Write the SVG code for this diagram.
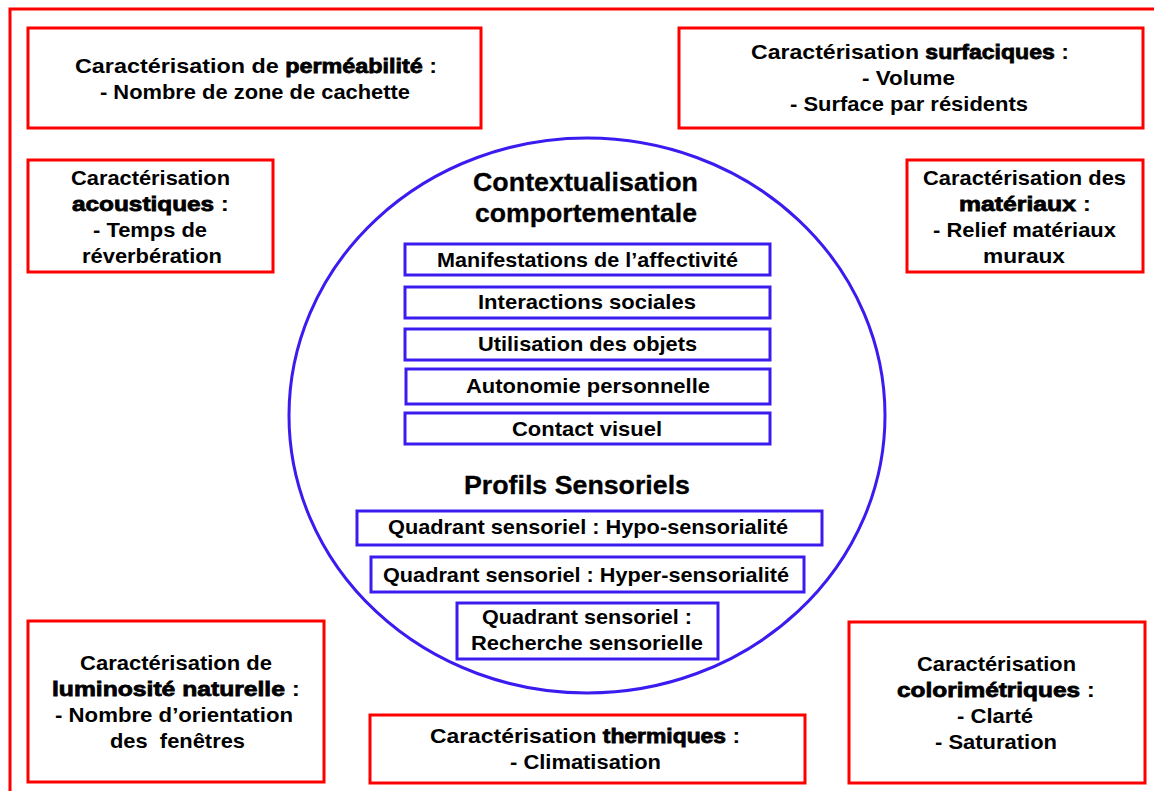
<svg xmlns="http://www.w3.org/2000/svg" width="1154" height="791" viewBox="0 0 1154 791">
<style>
.rb{fill:#fff;stroke:#ff0000;stroke-width:3}
.bb{fill:#fff;stroke:#3a1cf0;stroke-width:3}
text{font-family:"Liberation Sans",Arial,sans-serif;fill:#000;text-anchor:middle;font-weight:bold;font-size:21px}
.b{stroke:#000;stroke-width:0.8}
.h{font-size:25px;stroke:#000;stroke-width:0.3}
</style>
<rect x="10" y="9" width="1160" height="800" fill="none" stroke="#ff0000" stroke-width="3"/>
<g id="circle">
<ellipse cx="587" cy="415.5" rx="298" ry="277.5" fill="#fff" stroke="#3a1cf0" stroke-width="3"/>
<text class="h" x="585.5" y="191" textLength="225" lengthAdjust="spacingAndGlyphs">Contextualisation</text>
<text class="h" x="586" y="222" textLength="222" lengthAdjust="spacingAndGlyphs">comportementale</text>
<text class="h" x="577" y="494" textLength="226" lengthAdjust="spacingAndGlyphs">Profils Sensoriels</text>
</g>
<g id="n_manif"><rect class="bb" x="405" y="244" width="365" height="31"/><text x="587.5" y="267" textLength="301" lengthAdjust="spacingAndGlyphs">Manifestations de l’affectivité</text></g>
<g id="n_inter"><rect class="bb" x="405" y="287" width="365" height="31"/><text x="587" y="309" textLength="218" lengthAdjust="spacingAndGlyphs">Interactions sociales</text></g>
<g id="n_util"><rect class="bb" x="405" y="329" width="365" height="31"/><text x="587.5" y="351" textLength="219" lengthAdjust="spacingAndGlyphs">Utilisation des objets</text></g>
<g id="n_auto"><rect class="bb" x="406" y="369" width="364" height="35"/><text x="588" y="393" textLength="244" lengthAdjust="spacingAndGlyphs">Autonomie personnelle</text></g>
<g id="n_contact"><rect class="bb" x="405" y="413" width="365" height="31"/><text x="587" y="436" textLength="150" lengthAdjust="spacingAndGlyphs">Contact visuel</text></g>
<g id="n_hypo"><rect class="bb" x="357" y="511" width="465" height="34"/><text x="588" y="534" textLength="400" lengthAdjust="spacingAndGlyphs">Quadrant sensoriel : Hypo-sensorialité</text></g>
<g id="n_hyper"><rect class="bb" x="371" y="557" width="433" height="35"/><text x="586" y="582" textLength="406" lengthAdjust="spacingAndGlyphs">Quadrant sensoriel : Hyper-sensorialité</text></g>
<g id="n_rech"><rect class="bb" x="457" y="603" width="261" height="56"/><text x="587" y="624" textLength="210" lengthAdjust="spacingAndGlyphs">Quadrant sensoriel :</text><text x="587" y="650" textLength="232" lengthAdjust="spacingAndGlyphs">Recherche sensorielle</text></g>
<g id="n_perm"><rect class="rb" x="28" y="28" width="453" height="100"/>
<text x="256" y="73" textLength="362" lengthAdjust="spacingAndGlyphs">Caractérisation de <tspan class="b">perméabilité</tspan> :</text>
<text x="255" y="99" textLength="310" lengthAdjust="spacingAndGlyphs">- Nombre de zone de cachette</text></g>
<g id="n_surf"><rect class="rb" x="679" y="28" width="464" height="100"/>
<text x="910" y="59" textLength="318" lengthAdjust="spacingAndGlyphs">Caractérisation <tspan class="b">surfaciques</tspan> :</text>
<text x="908.5" y="85" textLength="93" lengthAdjust="spacingAndGlyphs">- Volume</text>
<text x="909" y="111" textLength="238" lengthAdjust="spacingAndGlyphs">- Surface par résidents</text></g>
<g id="n_acou"><rect class="rb" x="28" y="160" width="245" height="112"/>
<text x="150.5" y="185" textLength="159" lengthAdjust="spacingAndGlyphs">Caractérisation</text>
<text x="150.5" y="211" textLength="157" lengthAdjust="spacingAndGlyphs"><tspan class="b">acoustiques</tspan> :</text>
<text x="150" y="237" textLength="114" lengthAdjust="spacingAndGlyphs">- Temps de</text>
<text x="152" y="263" textLength="140" lengthAdjust="spacingAndGlyphs">réverbération</text></g>
<g id="n_mat"><rect class="rb" x="907" y="160" width="236" height="112"/>
<text x="1024.5" y="185" textLength="203" lengthAdjust="spacingAndGlyphs">Caractérisation des</text>
<text x="1025" y="211" textLength="132" lengthAdjust="spacingAndGlyphs"><tspan class="b">matériaux</tspan> :</text>
<text x="1024.5" y="237" textLength="183" lengthAdjust="spacingAndGlyphs">- Relief matériaux</text>
<text x="1024" y="263" textLength="82" lengthAdjust="spacingAndGlyphs">muraux</text></g>
<g id="n_lum"><rect class="rb" x="28" y="621" width="296" height="161"/>
<text x="176" y="670" textLength="192" lengthAdjust="spacingAndGlyphs">Caractérisation de</text>
<text x="176" y="696" textLength="248" lengthAdjust="spacingAndGlyphs"><tspan class="b">luminosité naturelle</tspan> :</text>
<text x="174" y="722" textLength="238" lengthAdjust="spacingAndGlyphs">- Nombre d’orientation</text>
<text x="177.5" y="748" textLength="135" lengthAdjust="spacingAndGlyphs" xml:space="preserve">des  fenêtres</text></g>
<g id="n_color"><rect class="rb" x="849" y="622" width="296" height="161"/>
<text x="996.5" y="671" textLength="159" lengthAdjust="spacingAndGlyphs">Caractérisation</text>
<text x="996" y="697" textLength="198" lengthAdjust="spacingAndGlyphs"><tspan class="b">colorimétriques</tspan> :</text>
<text x="995" y="723" textLength="76" lengthAdjust="spacingAndGlyphs">- Clarté</text>
<text x="996" y="749" textLength="122" lengthAdjust="spacingAndGlyphs">- Saturation</text></g>
<g id="n_therm"><rect class="rb" x="370" y="715" width="435" height="68"/>
<text x="585" y="743" textLength="310" lengthAdjust="spacingAndGlyphs">Caractérisation <tspan class="b">thermiques</tspan> :</text>
<text x="585.5" y="769" textLength="151" lengthAdjust="spacingAndGlyphs">- Climatisation</text></g>
<g id="connectors"></g>
</svg>
